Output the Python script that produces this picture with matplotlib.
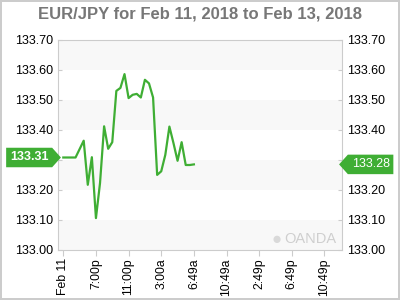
import matplotlib
matplotlib.use('Agg')
import matplotlib.pyplot as plt
import matplotlib.transforms as mtransforms
from matplotlib.path import Path

plt.rcParams['font.family'] = ['Liberation Sans', 'DejaVu Sans']

# EUR/JPY, one sample per 30 min (index-based axis)
prices = [133.308, 133.308, 133.308, 133.308, 133.336, 133.364, 133.217, 133.309,
          133.106, 133.223, 133.412, 133.337, 133.359, 133.530, 133.540, 133.586,
          133.506, 133.517, 133.520, 133.508, 133.567, 133.555, 133.508, 133.250,
          133.262, 133.317, 133.411, 133.356, 133.297, 133.359, 133.283, 133.283,
          133.285]
tick_pos = [0, 8, 16, 24, 32, 40, 48, 56, 64]
tick_labels = ['Feb 11', '7:00p', '11:00p', '3:00a', '6:49a', '10:49a',
               '2:49p', '6:49p', '10:49p']
y_ticks = [133.0, 133.1, 133.2, 133.3, 133.4, 133.5, 133.6, 133.7]
open_label = '133.31'
last_label = '133.28'

GREEN = '#3fae34'
GRID = '#cccccc'


def tag_right(x0, y0, width, height, mutation_size):
    # box with a point on the right
    pad = mutation_size * 0.3
    x0, y0 = x0 - pad, y0 - pad
    w, h = width + 2 * pad, height + 2 * pad
    tip = h * 0.45
    verts = [(x0, y0), (x0 + w, y0), (x0 + w + tip, y0 + h / 2),
             (x0 + w, y0 + h), (x0, y0 + h), (x0, y0)]
    return Path(verts, closed=True)


def tag_left(x0, y0, width, height, mutation_size):
    # box with a point on the left
    pad = mutation_size * 0.3
    x0, y0 = x0 - pad, y0 - pad
    w, h = width + 2 * pad, height + 2 * pad
    tip = h * 0.45
    verts = [(x0, y0), (x0 + w, y0), (x0 + w, y0 + h), (x0, y0 + h),
             (x0 - tip, y0 + h / 2), (x0, y0)]
    return Path(verts, closed=True)


fig = plt.figure(figsize=(4, 3), dpi=100)
fig.patch.set_edgecolor(GRID)
fig.patch.set_linewidth(1.5)
ax = fig.add_axes([0.146, 0.167, 0.708, 0.7])

# alternating bands
for lo in [133.0, 133.2, 133.4, 133.6]:
    ax.axhspan(lo, lo + 0.1, color='#f8f8f8', zorder=0, lw=0)

ax.plot(range(len(prices)), prices, color=GREEN, lw=1.6, zorder=3)

ax.set_xlim(-1.2, 68.2)
ax.set_ylim(133.0, 133.7)
ax.set_xticks(tick_pos)
ax.set_xticklabels(tick_labels, rotation=90, fontsize=8.8)
ax.set_yticks(y_ticks)
ax.set_yticklabels([f'{v:.2f}' for v in y_ticks], fontsize=9)
ax.tick_params(axis='x', length=4, color=GRID, pad=2)
ax.tick_params(axis='y', length=3, direction='in', color=GRID, pad=4,
               labelright=True, right=True)
for s in ax.spines.values():
    s.set_color(GRID)

fig.suptitle('EUR/JPY for Feb 11, 2018 to Feb 13, 2018', y=0.978,
             fontsize=12, fontweight='bold', color='#777777')

# price tags
trans = mtransforms.blended_transform_factory(ax.transAxes, ax.transData)
ax.annotate(open_label, xy=(0, prices[0]), xycoords=trans, xytext=(-10, 0),
            textcoords='offset pixels', ha='right', va='center', fontsize=9,
            fontweight='bold', color='white', annotation_clip=False, zorder=6,
            bbox=dict(boxstyle=tag_right, fc=GREEN, ec='none'))
ax.annotate(last_label, xy=(1, prices[-1]), xycoords=trans, xytext=(10, 0),
            textcoords='offset pixels', ha='left', va='center', fontsize=9,
            color='white', annotation_clip=False, zorder=6,
            bbox=dict(boxstyle=tag_left, fc=GREEN, ec='none'))

# watermark
ax.text(0.982, 0.05, 'OANDA', transform=ax.transAxes, ha='right', va='center',
        fontsize=10.5, color='#cfcfcf', zorder=1)
ax.text(0.77, 0.05, '\u25cf', transform=ax.transAxes, ha='center', va='center',
        fontsize=12, color='#d9d9d9', zorder=1)

fig.savefig('out.png', dpi=100, edgecolor=fig.get_edgecolor())
